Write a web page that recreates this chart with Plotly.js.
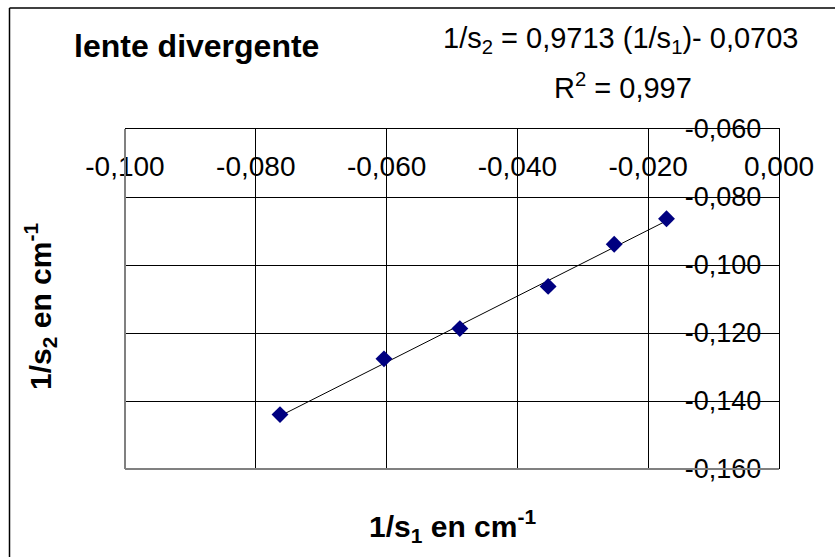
<!DOCTYPE html>
<html>
<head>
<meta charset="utf-8">
<script src="https://cdn.plot.ly/plotly-3.0.1.min.js"></script>
<style>html,body{margin:0;padding:0;background:#fff;}#chart{width:835px;height:557px;}</style>
</head>
<body>
<div id="chart"></div>
<script>
// Data
const invS1 = [-0.0763, -0.0604, -0.0488, -0.0353, -0.0252, -0.0172];
const invS2 = [-0.1440, -0.1276, -0.1187, -0.1063, -0.0939, -0.0864];
const fitSlope = [0.9713];
const fitIntercept = [-0.0703];
const xTickVals = [-0.100, -0.080, -0.060, -0.040, -0.020, 0.000];
const xTickText = ["-0,100", "-0,080", "-0,060", "-0,040", "-0,020", "0,000"];
const yTickVals = [-0.160, -0.140, -0.120, -0.100, -0.080, -0.060];
const yTickText = ["-0,160", "-0,140", "-0,120", "-0,100", "-0,080", "-0,060"];

const xMin = Math.min(...invS1), xMax = Math.max(...invS1);
const trendX = [xMin, xMax];
const trendY = trendX.map(v => fitSlope[0] * v + fitIntercept[0]);

const FONT = "Liberation Sans, Arial, sans-serif";

// pixel -> paper helpers (plot area 125..779 x, 129..469 y)
const L = 125, R = 779, T = 129, B = 469;
const px = x => (x - L) / (R - L);
const py = y => (B - y) / (B - T);

const traces = [
  {x: trendX, y: trendY, type: 'scatter', mode: 'lines',
   line: {color: '#000000', width: 1}, hoverinfo: 'skip', showlegend: false},
  {x: invS1, y: invS2, type: 'scatter', mode: 'markers',
   marker: {symbol: 'diamond', size: 13, color: '#000080', line: {width: 0}},
   showlegend: false}
];

const layout = {
  width: 835, height: 557,
  margin: {l: L, r: 835 - R, t: T, b: 557 - B, pad: 0},
  paper_bgcolor: '#ffffff', plot_bgcolor: '#ffffff',
  showlegend: false,
  font: {family: FONT, color: '#000000'},
  xaxis: {
    range: [-0.1, 0], side: 'top', tickvals: xTickVals, ticktext: xTickText,
    ticklabelposition: 'inside', ticklabeloverflow: 'allow', ticks: '', showline: true, linecolor: '#000000', linewidth: 1,
    showgrid: true, gridcolor: '#000000', gridwidth: 1, zeroline: false,
    tickfont: {family: FONT, size: 28, color: '#000000'}, ticklabelstandoff: 30, fixedrange: true
  },
  yaxis: {
    range: [-0.16, -0.06], side: 'right', tickvals: yTickVals, ticktext: yTickText,
    ticklabelposition: 'inside', ticklabeloverflow: 'allow', ticks: 'inside', ticklen: 8, tickcolor: '#000000',
    showline: true, linecolor: '#000000', linewidth: 1,
    showgrid: true, gridcolor: '#000000', gridwidth: 1, zeroline: false,
    tickfont: {family: FONT, size: 27, color: '#000000'}, ticklabelstandoff: 12, fixedrange: true
  },
  shapes: [
    // plot area border (left and bottom, grey)
    {type: 'line', xref: 'paper', yref: 'paper', x0: 0, x1: 0, y0: 0, y1: 1, line: {color: '#808080', width: 2}},
    {type: 'line', xref: 'paper', yref: 'paper', x0: 0, x1: 1, y0: 0, y1: 0, line: {color: '#808080', width: 2}},
    // chart area border (left and top visible)
    {type: 'line', xref: 'paper', yref: 'paper', x0: px(9.5), x1: px(9.5), y0: py(8), y1: py(560), line: {color: '#000000', width: 1.5}},
    {type: 'line', xref: 'paper', yref: 'paper', x0: px(9.5), x1: px(840), y0: py(8), y1: py(8), line: {color: '#000000', width: 1.5}}
  ],
  annotations: [
    {text: '<b>lente divergente</b>', xref: 'paper', yref: 'paper', x: px(196), y: py(46),
     xanchor: 'center', yanchor: 'middle', showarrow: false, font: {family: FONT, size: 32, color: '#000000'}},
    {text: '1/s<sub>2</sub> = 0,9713 (1/s<sub>1</sub>)- 0,0703', xref: 'paper', yref: 'paper', x: px(620), y: py(40),
     xanchor: 'center', yanchor: 'middle', showarrow: false, font: {family: FONT, size: 29, color: '#000000'}},
    {text: 'R<sup>2</sup> = 0,997', xref: 'paper', yref: 'paper', x: px(623), y: py(86),
     xanchor: 'center', yanchor: 'middle', showarrow: false, font: {family: FONT, size: 29, color: '#000000'}},
    {text: '<b>1/s<sub>1</sub> en cm<sup>-1</sup></b>', xref: 'paper', yref: 'paper', x: px(452), y: py(526),
     xanchor: 'center', yanchor: 'middle', showarrow: false, font: {family: FONT, size: 30, color: '#000000'}},
    {text: '<b>1/s<sub>2</sub> en cm<sup>-1</sup></b>', xref: 'paper', yref: 'paper', x: px(40), y: py(307),
     xanchor: 'center', yanchor: 'middle', textangle: -90, showarrow: false, font: {family: FONT, size: 30, color: '#000000'}}
  ]
};

Plotly.newPlot('chart', traces, layout, {displayModeBar: false, staticPlot: true});
</script>
</body>
</html>
